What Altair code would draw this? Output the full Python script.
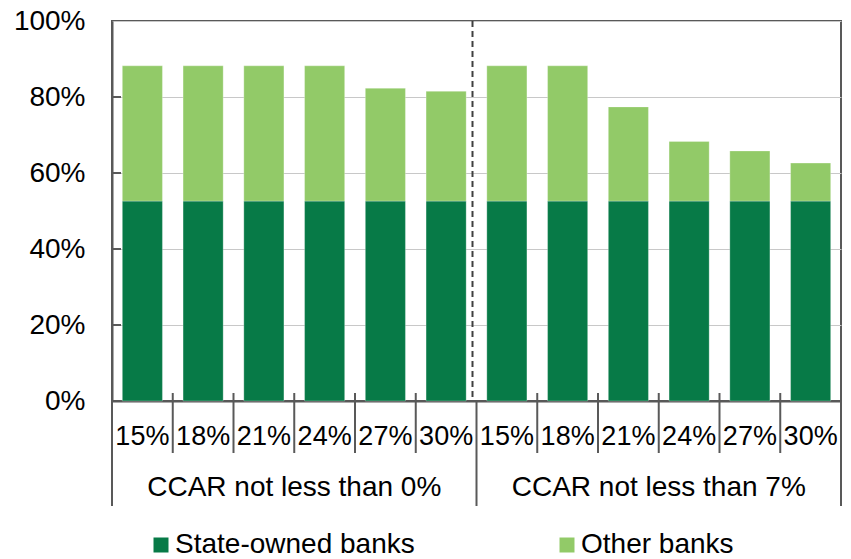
import altair as alt
import pandas as pd

# Data: share of banks by CCAR threshold and capital ratio scenario
groups = ["CCAR not less than 0%", "CCAR not less than 7%"]
rates = ["15%", "18%", "21%", "24%", "27%", "30%"]
state_owned = [52.6, 52.6, 52.6, 52.6, 52.6, 52.6, 52.6, 52.6, 52.6, 52.6, 52.6, 52.6]
other_banks = [35.6, 35.6, 35.6, 35.6, 29.7, 28.9, 35.6, 35.6, 24.8, 15.7, 13.2, 10.0]
series = ["State-owned banks", "Other banks"]
colors = ["#077A47", "#92CA68"]

FONT = "Liberation Sans"
FRAME = "#595959"

keys = [f"{g}|{r}" for g in groups for r in rates]
rows = []
for i, k in enumerate(keys):
    rows.append({"key": k, "series": series[0], "value": state_owned[i] / 100, "ord": 0})
    rows.append({"key": k, "series": series[1], "value": other_banks[i] / 100, "ord": 1})
bars_df = pd.DataFrame(rows)

n = len(keys)
W, H = 729, 380

bars = alt.Chart(bars_df).mark_bar(stroke="white", strokeOpacity=0.35, strokeWidth=0.8).encode(
    x=alt.X("key:N", sort=keys,
            scale=alt.Scale(paddingInner=0.34, paddingOuter=0.17),
            axis=alt.Axis(title=None, labelExpr="split(datum.value, '|')[1]",
                          labelFont=FONT, labelFontSize=27, labelColor="black",
                          labelAngle=0, labelBaseline="middle", labelPadding=35,
                          ticks=False, tickSize=0, domain=True, domainColor=FRAME,
                          domainWidth=2, grid=False, labelLimit=200)),
    y=alt.Y("value:Q", stack="zero",
            scale=alt.Scale(domain=[0, 1], nice=False),
            axis=alt.Axis(title=None, format=".0%", values=[0, 0.2, 0.4, 0.6, 0.8, 1.0],
                          labelFont=FONT, labelFontSize=28, labelColor="black",
                          labelPadding=27, ticks=False, tickSize=0,
                          domainColor=FRAME, domainWidth=2,
                          grid=True, gridColor="#C8C8C8", gridWidth=1.2)),
    color=alt.Color("series:N",
                    scale=alt.Scale(domain=series, range=colors),
                    legend=alt.Legend(title=None, orient="none", direction="horizontal",
                                      legendX=35, legendY=510,
                                      symbolType="square", symbolSize=225,
                                      symbolStrokeWidth=0, symbolOpacity=1,
                                      labelFont=FONT, labelFontSize=28, labelColor="black",
                                      labelOffset=0, columnPadding=138, padding=0,
                                      labelLimit=400)),
    order=alt.Order("ord:Q"),
)

# Category boundaries below the axis: short ones between rates, long ones between groups
bounds = pd.DataFrame({"b": list(range(n + 1))})
bounds["long"] = bounds["b"] % len(rates) == 0

xq = alt.X("b:Q", scale=alt.Scale(domain=[0, n], nice=False, zero=False), axis=None)

short_ticks = alt.Chart(bounds).transform_filter("!datum.long").mark_rule(
    color=FRAME, strokeWidth=2, clip=False
).encode(x=xq, y=alt.value(H - 8), y2=alt.value(H + 52))

long_ticks = alt.Chart(bounds).transform_filter("datum.long").mark_rule(
    color=FRAME, strokeWidth=2, clip=False
).encode(x=xq, y=alt.value(H), y2=alt.value(H + 105))

# Dashed divider between the two CCAR groups
divider = alt.Chart(pd.DataFrame({"b": [len(rates)]})).mark_rule(
    color="#404040", strokeWidth=2, strokeDash=[6, 4], xOffset=-4
).encode(x=xq, y=alt.value(0), y2=alt.value(H))

# Group titles under the rate labels
group_df = pd.DataFrame({"g": groups, "b": [len(rates) / 2, len(rates) * 1.5]})
group_text = alt.Chart(group_df).mark_text(
    font=FONT, fontSize=28, color="black", baseline="middle", clip=False
).encode(x=xq, y=alt.value(H + 87), text="g:N")

# Inward tick marks on the y axis
ytick_df = pd.DataFrame({"v": [0.2, 0.4, 0.6, 0.8]})
yticks = alt.Chart(ytick_df).mark_rule(color=FRAME, strokeWidth=2).encode(
    y=alt.Y("v:Q"), x=alt.value(0), x2=alt.value(9)
)

chart = alt.layer(bars, divider, yticks, short_ticks, long_ticks, group_text).resolve_scale(
    x="independent"
).properties(
    width=W, height=H,
    autosize=alt.AutoSizeParams(type="none"),
    padding={"left": 112, "top": 21, "right": 10, "bottom": 158},
    background="white",
).configure_view(
    stroke=FRAME, strokeWidth=2
)

chart.save("out.html", embed_options={"renderer": "svg", "actions": False})
